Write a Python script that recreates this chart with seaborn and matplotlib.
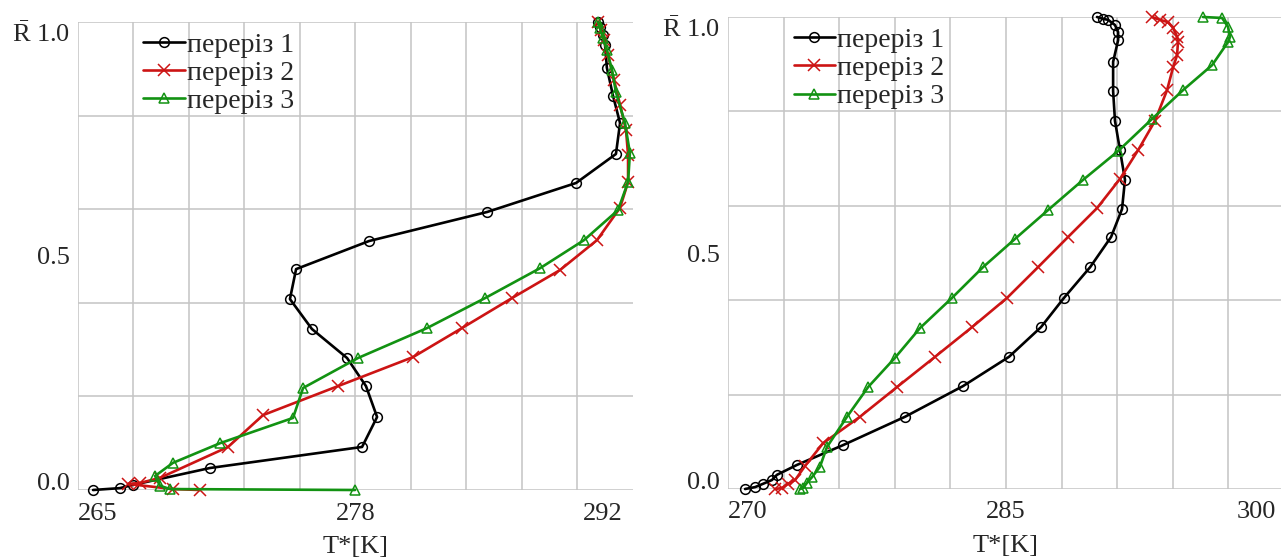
import numpy as np
import matplotlib
matplotlib.use('Agg')
import matplotlib.pyplot as plt
import matplotlib.transforms as mtransforms
import seaborn as sns
from matplotlib.ticker import FixedLocator, MultipleLocator

# ---------------- data ----------------
series_labels = ['переріз 1', 'переріз 2', 'переріз 3']

# left panel
left_T1 = [290.30, 290.39, 290.54, 290.64, 290.73, 291.03, 291.37, 291.17, 289.23, 284.90,
           279.16, 275.61, 275.31, 276.38, 278.09, 279.01, 279.55, 278.82, 271.42, 267.68,
           267.04, 265.73]
left_R1 = [1.000, 0.990, 0.972, 0.951, 0.902, 0.842, 0.784, 0.718, 0.656, 0.594,
           0.532, 0.472, 0.408, 0.344, 0.282, 0.222, 0.156, 0.092, 0.047, 0.011,
           0.004, 0.000]
left_T2 = [290.30, 290.44, 290.59, 290.78, 291.08, 291.37, 291.66, 291.76, 291.76, 291.37,
           290.25, 288.45, 286.11, 283.68, 281.30, 277.65, 274.00, 272.30, 268.99, 268.02,
           267.43, 269.62, 270.94]
left_R2 = [1.000, 0.983, 0.962, 0.929, 0.876, 0.823, 0.769, 0.716, 0.658, 0.603,
           0.534, 0.470, 0.410, 0.346, 0.284, 0.222, 0.160, 0.092, 0.026, 0.015,
           0.013, 0.002, 0.000]
left_T3 = [290.30, 290.39, 290.54, 290.73, 290.98, 291.17, 291.61, 291.85, 291.76, 291.27,
           289.62, 287.48, 284.80, 281.98, 278.62, 275.95, 275.46, 271.91, 269.62, 268.75,
           268.99, 269.48, 278.48]
left_R3 = [1.000, 0.987, 0.966, 0.940, 0.897, 0.850, 0.784, 0.720, 0.658, 0.598,
           0.534, 0.474, 0.410, 0.346, 0.282, 0.218, 0.154, 0.100, 0.058, 0.030,
           0.009, 0.002, 0.000]

# right panel
right_T1 = [289.91, 290.24, 290.51, 290.88, 291.05, 291.05, 290.78, 290.78, 290.88, 291.15,
            291.42, 291.26, 290.67, 289.54, 288.13, 286.89, 285.16, 282.68, 279.55, 276.21,
            273.72, 272.64, 272.37, 271.89, 271.46, 270.92]
right_R1 = [1.000, 0.996, 0.994, 0.983, 0.968, 0.951, 0.905, 0.843, 0.780, 0.718,
            0.655, 0.593, 0.534, 0.470, 0.405, 0.343, 0.280, 0.218, 0.153, 0.093,
            0.051, 0.030, 0.019, 0.011, 0.004, 0.000]
right_T2 = [292.88, 293.31, 293.75, 294.02, 294.23, 294.28, 294.23, 294.02, 293.69, 293.04,
            292.13, 291.15, 289.91, 288.35, 286.73, 285.06, 283.17, 281.17, 279.12, 277.12,
            275.13, 274.16, 273.62, 273.24, 272.91, 272.54]
right_R2 = [1.000, 0.994, 0.989, 0.977, 0.958, 0.947, 0.919, 0.894, 0.845, 0.780,
            0.718, 0.657, 0.595, 0.534, 0.470, 0.405, 0.343, 0.280, 0.216, 0.153,
            0.097, 0.049, 0.019, 0.011, 0.002, 0.000]
right_T3 = [295.63, 296.66, 296.98, 297.09, 296.98, 296.12, 294.55, 292.88, 291.05, 289.16,
            287.27, 285.49, 283.76, 282.09, 280.36, 279.01, 277.56, 276.42, 275.34, 274.96,
            274.53, 274.26, 274.05, 273.89]
right_R3 = [1.000, 0.998, 0.979, 0.958, 0.947, 0.898, 0.845, 0.784, 0.716, 0.655,
            0.591, 0.530, 0.470, 0.405, 0.341, 0.278, 0.216, 0.153, 0.089, 0.047,
            0.025, 0.013, 0.002, 0.000]

left_xlim = (265, 292)
right_xlim = (270, 300)
left_xticklabels = ['265', '278', '292']
right_xticklabels = ['270', '285', '300']
y_ticks = [0.0, 0.5, 1.0]
y_ticklabels = ['0.0', '0.5', r'$\bar{\mathrm{R}}$ 1.0']
x_label = 'T*[K]'

# ---------------- styling ----------------
sns.set_style('white')
plt.rcParams['font.family'] = ['Liberation Serif', 'DejaVu Serif']
plt.rcParams['mathtext.fontset'] = 'custom'
plt.rcParams['mathtext.rm'] = 'Liberation Serif'
plt.rcParams['mathtext.it'] = 'Liberation Serif:italic'

colors = ['#000000', '#cc1414', '#129212']
markers = ['o', 'x', '^']
msizes = [7, 8, 7]

fig = plt.figure(figsize=(12.81, 5.6), dpi=100)
ax1 = fig.add_axes([78 / 1281, 70 / 560, 555 / 1281, 468 / 560])
ax2 = fig.add_axes([728 / 1281, 71 / 560, 556 / 1281, 472 / 560])

panels = [
    (ax1, [(left_T1, left_R1), (left_T2, left_R2), (left_T3, left_R3)], left_xlim, left_xticklabels, -10),
    (ax2, [(right_T1, right_R1), (right_T2, right_R2), (right_T3, right_R3)], right_xlim, right_xticklabels, -8),
]

for ax, series, xlim, xtl, shift in panels:
    for (T, R), lab, c, m, ms in zip(series, series_labels, colors, markers, msizes):
        sns.lineplot(x=T, y=R, ax=ax, sort=False, estimator=None, color=c, lw=1.9,
                     marker=m, markersize=ms, markerfacecolor='none', markeredgecolor=c,
                     markeredgewidth=1.1, label=lab, clip_on=False, legend=False)
    ax.set_xlim(*xlim)
    ax.set_ylim(0, 1)
    xmid = (xlim[0] + xlim[1]) / 2
    ax.set_xticks([xlim[0], xmid, xlim[1]])
    ax.set_xticklabels(xtl)
    ax.set_yticks(y_ticks)
    ax.set_yticklabels(y_ticklabels)
    ax.tick_params(axis='both', length=0, labelsize=19)
    ax.tick_params(axis='x', pad=9)
    ax.tick_params(axis='y', pad=6)
    xl = ax.get_xticklabels()
    xl[0].set_ha('left'); xl[-1].set_ha('right')
    xl[-1].set_transform(xl[-1].get_transform() +
                         mtransforms.ScaledTranslation(shift / 100, 0, fig.dpi_scale_trans))
    yl = ax.get_yticklabels()
    yl[0].set_va('baseline'); yl[-1].set_va('top')
    ax.xaxis.set_minor_locator(FixedLocator(np.linspace(xlim[0], xlim[1], 11)[:-1]))
    ax.yaxis.set_minor_locator(MultipleLocator(0.2))
    ax.xaxis.remove_overlapping_locs = False
    ax.yaxis.remove_overlapping_locs = False
    ax.tick_params(which='minor', length=0)
    ax.grid(False, which='major')
    ax.grid(True, which='minor', color='#c4c4c4', lw=1.1)
    ax.set_axisbelow(True)
    for s in ax.spines.values():
        s.set_visible(False)
    ax.set_xlabel(x_label, fontsize=19, labelpad=8)
    ax.set_ylabel('')
    ax.legend(loc='upper left', bbox_to_anchor=(0.118, 0.978), frameon=False,
              handlelength=1.5, handletextpad=0.05, labelspacing=0.1,
              borderpad=0, borderaxespad=0, prop={'size': 20})

fig.savefig('out.png', dpi=100)
